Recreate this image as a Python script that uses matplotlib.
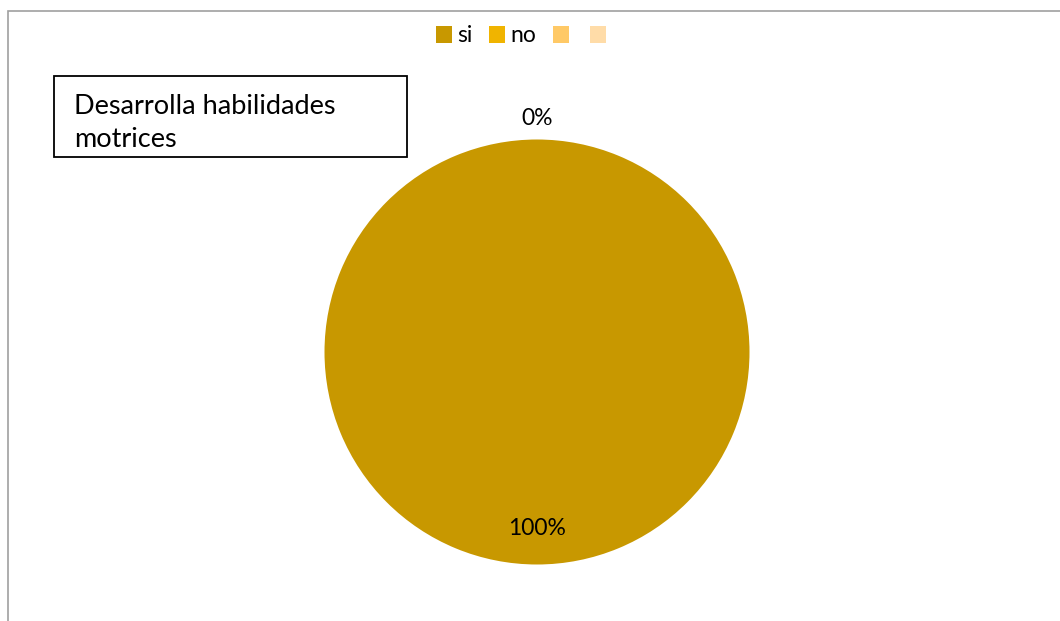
import matplotlib
matplotlib.use("Agg")
import matplotlib.pyplot as plt
from matplotlib.patches import Rectangle
import numpy as np

plt.rcParams['font.family'] = ['Lato', 'DejaVu Sans']

categories = ['si', 'no', '', '']
values = [100, 0]
colors = ['#C89800', '#F0B400', '#FFC966', '#FFDCA8']
title = 'Desarrolla habilidades\nmotrices'

W, H = 1060, 621
fig = plt.figure(figsize=(W / 100, H / 100), dpi=100)
ax = fig.add_axes([0, 0, 1, 1])

cx, cy, r = 537, 352, 212.5
wedges, _ = ax.pie(values, colors=colors[:len(values)], startangle=90,
                   counterclock=False, radius=1.0,
                   wedgeprops=dict(linewidth=0))
ax.set_xlim(-cx / r, (W - cx) / r)
ax.set_ylim(-(H - cy) / r, cy / r)
ax.set_aspect('auto')
ax.axis('off')

total = sum(values)
for w, v in zip(wedges, values):
    mid = np.deg2rad((w.theta1 + w.theta2) / 2)
    dist = 0.83 if v > 0 else 1.10
    ax.text(dist * np.cos(mid), dist * np.sin(mid), f"{v / total * 100:.0f}%",
            ha='center', va='center', fontsize=16.5, color='#000000')

# outer border
fig.add_artist(Rectangle((8 / W, -0.01), 1.02 - 8 / W, 1.01 - 11 / H,
                         transform=fig.transFigure, fill=False,
                         edgecolor='#A0A0A0', linewidth=1.2))

# title box
fig.add_artist(Rectangle((54 / W, 1 - 157 / H), (407 - 54) / W, (157 - 76) / H,
                         transform=fig.transFigure, fill=False,
                         edgecolor='#000000', linewidth=1.3))
fig.text(74 / W, 1 - 123 / H, title, fontsize=19.5, ha='left', va='center',
         linespacing=1.42)

handles = [Rectangle((0, 0), 1, 1, facecolor=c, edgecolor='none') for c in colors]
fig.legend(handles, categories, loc='center', bbox_to_anchor=(524 / W, 1 - 36 / H),
           ncol=4, frameon=False, fontsize=16.5, handlelength=0.7, handleheight=0.7,
           handletextpad=0.25, columnspacing=0.7, borderpad=0)

fig.savefig('out.png', dpi=100)
